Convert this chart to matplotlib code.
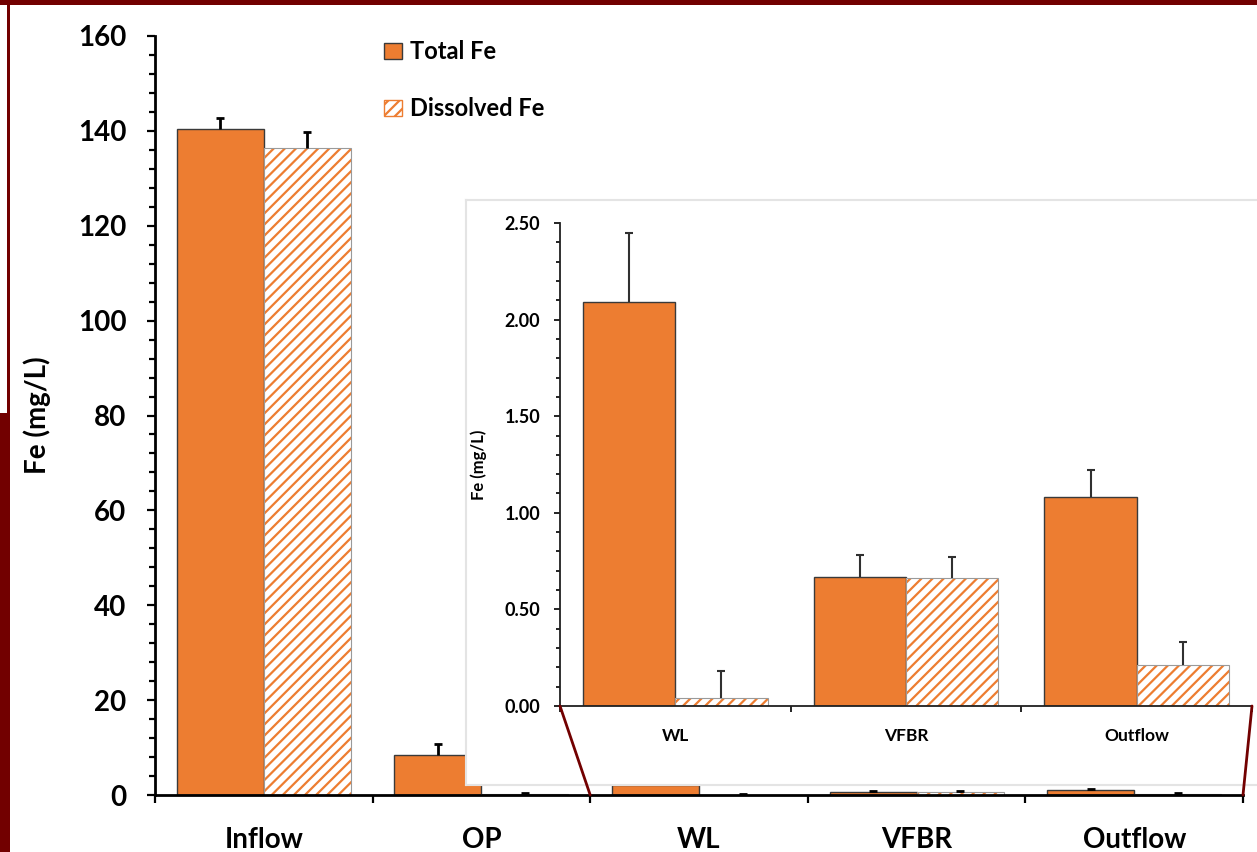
import matplotlib
matplotlib.use("Agg")
import matplotlib.pyplot as plt
from matplotlib.patches import Rectangle, Patch, ConnectionPatch
from matplotlib.ticker import MultipleLocator, FixedLocator
import numpy as np

# ---- data ----
categories = ["Inflow", "OP", "WL", "VFBR", "Outflow"]
total_fe = [140.3, 8.4, 2.09, 0.67, 1.08]
total_err = [2.5, 2.3, 0.36, 0.11, 0.14]
diss_fe = [136.4, 0.2, 0.04, 0.66, 0.21]
diss_err = [3.3, 0.3, 0.14, 0.11, 0.12]

inset_categories = ["WL", "VFBR", "Outflow"]
inset_total = [2.09, 0.67, 1.08]
inset_total_err = [0.36, 0.11, 0.14]
inset_diss = [0.04, 0.66, 0.21]
inset_diss_err = [0.14, 0.11, 0.12]

main_yticks = [0, 20, 40, 60, 80, 100, 120, 140, 160]
inset_yticks = [0.0, 0.5, 1.0, 1.5, 2.0, 2.5]

ORANGE = "#ED7D31"
MAROON = "#720000"
FONT = "Lato"

plt.rcParams["font.family"] = [FONT, "DejaVu Sans"]
plt.rcParams["font.weight"] = "bold"
plt.rcParams["hatch.linewidth"] = 1.6

W, H = 1257, 852
fig = plt.figure(figsize=(W / 100, H / 100), dpi=100)
fig.patch.set_facecolor("white")

# ---- maroon frame pieces ----
fig.patches.append(Rectangle((0, 1 - 5 / H), 1, 5 / H, transform=fig.transFigure,
                             facecolor=MAROON, edgecolor="none", zorder=0))
fig.patches.append(Rectangle((0, 0), 10 / W, 1 - 413 / H, transform=fig.transFigure,
                             facecolor=MAROON, edgecolor="none", zorder=0))
fig.patches.append(Rectangle((7 / W, 0), 3 / W, 1, transform=fig.transFigure,
                             facecolor=MAROON, edgecolor="none", zorder=0))

def fx(px):
    return px / W

def fy(py):
    return 1 - py / H


def draw_bars(a, xs, tot, tot_err, dis, dis_err, bw, elw, ecol, capw):
    a.bar(xs - bw / 2, tot, bw, color=ORANGE, edgecolor="#3a3a3a", linewidth=1.0, zorder=2)
    a.bar(xs + bw / 2, dis, bw, color="white", edgecolor=ORANGE, hatch="///", linewidth=0, zorder=2)
    a.bar(xs + bw / 2, dis, bw, fill=False, edgecolor="#9a9a9a", linewidth=0.8, zorder=2)
    for pos, vals, errs in [(xs - bw / 2, tot, tot_err), (xs + bw / 2, dis, dis_err)]:
        vals = np.asarray(vals)
        errs = np.asarray(errs)
        a.errorbar(pos, vals, yerr=[np.zeros(len(vals)), errs], fmt="none",
                   ecolor=ecol, elinewidth=elw, capsize=0, zorder=3)
        a.plot(pos, vals + errs, linestyle="none", marker="_", markersize=capw,
               markeredgewidth=elw, color=ecol, zorder=3)


# ---- main axes ----
L, R, B, T = 155, 1243, 795, 36
ax = fig.add_axes([fx(L), fy(B), fx(R) - fx(L), fy(T) - fy(B)])
ax.set_zorder(1)
x = np.arange(len(categories))
bw = 0.4
draw_bars(ax, x, total_fe, total_err, diss_fe, diss_err, bw, 2.0, "black", 6)

ax.set_xlim(-0.5, len(categories) - 0.5)
ax.set_ylim(0, 160)
for s in ["top", "right"]:
    ax.spines[s].set_visible(False)
for s in ["left", "bottom"]:
    ax.spines[s].set_linewidth(2)
    ax.spines[s].set_color("black")
ax.set_yticks(main_yticks)
ax.yaxis.set_minor_locator(MultipleLocator(4))
ax.tick_params(axis="y", which="major", direction="out", length=5.5, width=1.6,
               pad=15, labelsize=20)
ax.tick_params(axis="y", which="minor", direction="out", length=4, width=1.6)
ax.set_xticks(x)
ax.set_xticklabels(categories)
ax.xaxis.set_minor_locator(FixedLocator(np.arange(-0.5, len(categories), 1.0)))
ax.tick_params(axis="x", which="major", length=0, pad=23, labelsize=20)
ax.tick_params(axis="x", which="minor", direction="out", length=6, width=1.6)
ax.set_ylabel("Fe (mg/L)", fontsize=20, fontweight="bold")
ax.yaxis.set_label_coords(-0.096, 0.5)

leg = ax.legend(handles=[Patch(facecolor=ORANGE, edgecolor="#3a3a3a", linewidth=1.0),
                         Patch(facecolor="white", edgecolor=ORANGE, hatch="///", linewidth=1.0)],
                labels=["Total Fe", "Dissolved Fe"], loc="upper left",
                bbox_to_anchor=(fx(384), fy(40)), bbox_transform=fig.transFigure,
                frameon=False, fontsize=17, handlelength=0.75, handleheight=0.65,
                handletextpad=0.35, labelspacing=1.45, borderpad=0, borderaxespad=0)
for t in leg.get_texts():
    t.set_fontweight("bold")

# ---- inset background ----
bg = fig.add_axes([fx(466), fy(785), fx(W + 5) - fx(466), fy(200) - fy(785)])
bg.set_zorder(2)
bg.set_xticks([])
bg.set_yticks([])
bg.set_facecolor("white")
for s in bg.spines.values():
    s.set_color("#e4e4e4")
    s.set_linewidth(1.5)

# ---- inset axes ----
iL, iR, iB, iT = 560, 1252, 706, 223
axin = fig.add_axes([fx(iL), fy(iB), fx(iR) - fx(iL), fy(iT) - fy(iB)])
axin.set_zorder(3)
axin.patch.set_alpha(0)
xi = np.arange(len(inset_categories))
draw_bars(axin, xi, inset_total, inset_total_err, inset_diss, inset_diss_err, bw, 1.5, "#303030", 6)
axin.set_xlim(-0.5, len(inset_categories) - 0.5)
axin.set_ylim(0, 2.5)
for s in ["top", "right"]:
    axin.spines[s].set_visible(False)
for s in ["left", "bottom"]:
    axin.spines[s].set_linewidth(1.3)
    axin.spines[s].set_color("#202020")
axin.set_yticks(inset_yticks)
axin.set_yticklabels([f"{v:.2f}" for v in inset_yticks])
axin.yaxis.set_minor_locator(MultipleLocator(0.1))
axin.tick_params(axis="y", which="major", direction="out", length=4.3, width=1.2,
                 pad=10, labelsize=13)
axin.tick_params(axis="y", which="minor", direction="out", length=3, width=1.2)
axin.set_xticks(xi)
axin.set_xticklabels(inset_categories)
axin.xaxis.set_minor_locator(FixedLocator(np.arange(-0.5, len(inset_categories), 1.0)))
axin.tick_params(axis="x", which="major", length=0, pad=16, labelsize=12.5)
axin.tick_params(axis="x", which="minor", direction="out", length=4.5, width=1.2)
axin.set_ylabel("Fe (mg/L)", fontsize=12, fontweight="bold")
axin.yaxis.set_label_coords(-0.105, 0.5)

# ---- connector lines ----
for xa, xb in [(0, -0.5 + 2), (1, len(categories) - 0.5)]:
    cp = ConnectionPatch(xyA=(xa, 0), coordsA=axin.transAxes,
                         xyB=(xb, 0), coordsB=ax.transData,
                         color=MAROON, linewidth=2, zorder=10)
    fig.add_artist(cp)

fig.savefig("out.png", dpi=100, facecolor="white")
